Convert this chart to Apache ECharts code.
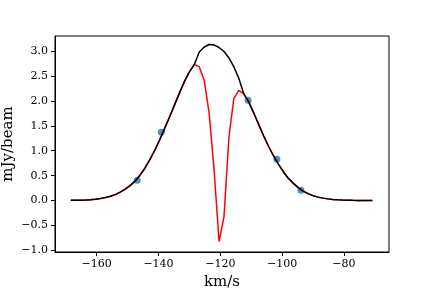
<!DOCTYPE html>
<html>
<head>
<meta charset="utf-8">
<script src="https://cdn.jsdelivr.net/npm/echarts@6/dist/echarts.min.js"></script>
<style>html,body{margin:0;padding:0;background:#fff}#c{width:432px;height:288px}</style>
</head>
<body>
<div id="c"></div>
<script>
// velocity channels (km/s)
const velocity = [-168.4,-166.8,-165.2,-163.6,-162.0,-160.4,-158.8,-157.2,-155.6,-154.0,
  -152.4,-150.8,-149.2,-147.6,-146.0,-144.4,-142.8,-141.2,-139.6,-138.0,
  -136.4,-134.8,-133.2,-131.6,-130.0,-128.4,-126.8,-125.2,-123.6,-122.0,
  -120.4,-118.8,-117.2,-115.6,-114.0,-112.4,-110.8,-109.2,-107.6,-106.0,
  -104.4,-102.8,-101.2,-99.6,-98.0,-96.4,-94.8,-93.2,-91.6,-90.0,
  -88.4,-86.8,-85.2,-83.6,-82.0,-80.4,-78.8,-77.2,-75.6,-74.0,
  -72.4,-70.8];
// model / fit profile (black)
const fitFlux = [0.005,0.007,0.009,0.012,0.018,0.028,0.041,0.060,0.088,0.12,
  0.17,0.23,0.30,0.39,0.51,0.65,0.82,1.01,1.22,1.45,
  1.68,1.92,2.16,2.39,2.58,2.73,2.98,3.08,3.13,3.12,
  3.07,2.99,2.86,2.68,2.45,2.14,1.98,1.76,1.53,1.30,
  1.09,0.90,0.73,0.58,0.45,0.35,0.26,0.19,0.14,0.10,
  0.07,0.05,0.035,0.024,0.016,0.010,0.007,0.005,0.004,0.003,
  0.002,0.002];
// observed profile with absorption (red)
const obsFlux = [0.005,0.007,0.009,0.012,0.018,0.028,0.041,0.060,0.088,0.12,
  0.17,0.23,0.30,0.39,0.51,0.65,0.82,1.01,1.22,1.45,
  1.68,1.92,2.16,2.39,2.58,2.73,2.68,2.41,1.75,0.61,
  -0.82,-0.32,1.28,2.05,2.21,2.14,1.98,1.76,1.53,1.30,
  1.09,0.90,0.73,0.58,0.45,0.35,0.26,0.19,0.14,0.10,
  0.07,0.05,0.035,0.024,0.016,0.010,0.007,0.005,0.004,0.003,
  0.002,0.002];
// sample points (blue)
const ptVel = [-146.9,-139.1,-111.0,-101.7,-93.9];
const ptFlux = [0.41,1.37,2.01,0.83,0.21];
// tick labels
const xTicks = [-160,-140,-120,-100,-80];
const yTicks = [-1.0,-0.5,0.0,0.5,1.0,1.5,2.0,2.5,3.0];

const MINUS = '\u2212';
const font = 'DejaVu Serif';
const pair = (xs, ys) => xs.map((x, i) => [x, ys[i]]);

const chart = echarts.init(document.getElementById('c'), null, {renderer: 'canvas'});
chart.setOption({
  animation: false,
  backgroundColor: '#fff',
  grid: {left: 55, right: 43, top: 36, bottom: 36, show: true, borderColor: '#000', borderWidth: 1,
    containLabel: false, outerBoundsMode: 'none'},
  graphic: [{
    type: 'text', x: 8, y: 144, rotation: Math.PI / 2,
    style: {text: 'mJy/beam', fontFamily: font, fontSize: 15, fill: '#000', align: 'center', verticalAlign: 'middle'}
  }],
  xAxis: {
    type: 'value', min: -173.5, max: -65.4,
    name: 'km/s', nameLocation: 'middle', nameGap: 22,
    nameTextStyle: {fontFamily: font, fontSize: 15, color: '#000'},
    axisLine: {show: true, onZero: false, lineStyle: {color: '#000', width: 1}},
    axisTick: {show: true, length: 4, lineStyle: {color: '#000'}, customValues: xTicks},
    axisLabel: {fontFamily: font, fontSize: 11, color: '#000', margin: 7, customValues: xTicks,
      formatter: v => (v < 0 ? MINUS : '') + Math.abs(v)},
    splitLine: {show: false}
  },
  yAxis: {
    type: 'value', min: -1.03, max: 3.30,
    axisLine: {show: true, onZero: false, lineStyle: {color: '#000', width: 1}},
    axisTick: {show: true, length: 4, lineStyle: {color: '#000'}, customValues: yTicks},
    axisLabel: {fontFamily: font, fontSize: 11, color: '#000', margin: 7, customValues: yTicks,
      formatter: v => (v < 0 ? MINUS : '') + Math.abs(v).toFixed(1)},
    splitLine: {show: false}
  },
  series: [
    {type: 'scatter', data: pair(ptVel, ptFlux), symbolSize: 7, itemStyle: {color: '#1f77b4'}, z: 1},
    {type: 'line', data: pair(velocity, obsFlux), showSymbol: false, symbol: 'none', lineStyle: {color: '#ff0000', width: 1.5}, z: 2},
    {type: 'line', data: pair(velocity, fitFlux), showSymbol: false, symbol: 'none', lineStyle: {color: '#000000', width: 1.5}, z: 3}
  ]
});
</script>
</body>
</html>
